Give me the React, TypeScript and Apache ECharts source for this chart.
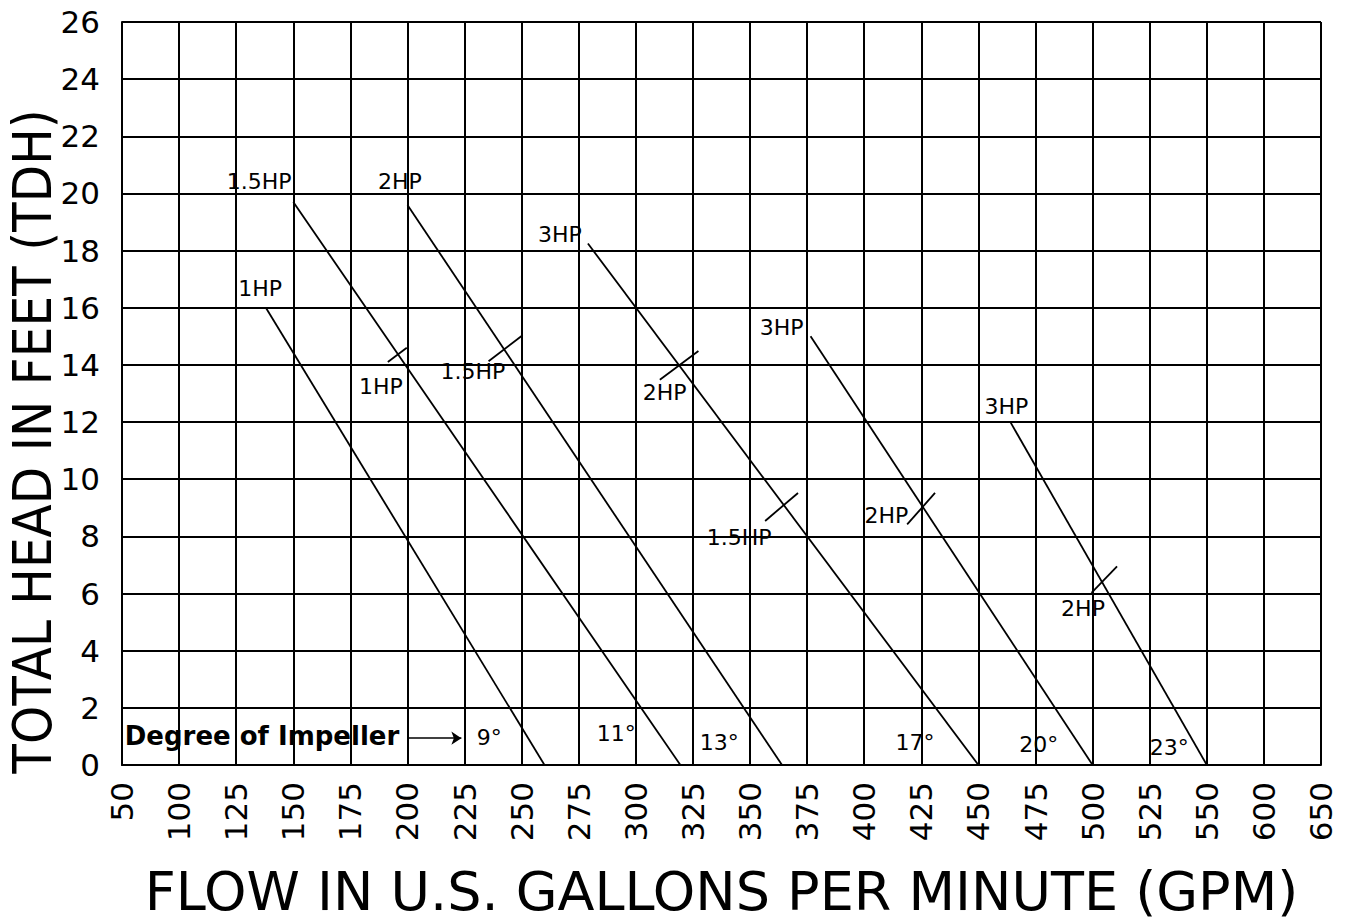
import React, { useEffect, useRef } from "react";
import * as echarts from "echarts";

// X axis tick labels (equally spaced columns on the original chart)
const xTickLabels = [
  "50", "100", "125", "150", "175", "200", "225", "250", "275", "300", "325",
  "350", "375", "400", "425", "450", "475", "500", "525", "550", "600", "650",
];

// Impeller curves: [GPM, feet TDH]
const curve9 = [[138, 16], [260, 0]];
const curve11 = [[150, 19.7], [319.5, 0]];
const curve13 = [[200, 19.6], [364, 0]];
const curve17 = [[279, 18.25], [450, 0]];
const curve20 = [[376.5, 15], [500, 0]];
const curve23 = [[464, 12], [550, 0]];
const curveNames = ["9°", "11°", "13°", "17°", "20°", "23°"];
const curves = [curve9, curve11, curve13, curve17, curve20, curve23];

// Horsepower change marks (short crossing strokes)
const hpMarks = [
  [[191.4, 14.1], [199.7, 14.6]],
  [[235.5, 14.13], [250.4, 15.04]],
  [[310.5, 13.48], [327.4, 14.49]],
  [[356.6, 8.54], [371, 9.52]],
  [[418.8, 8.42], [431, 9.52]],
  [[499.5, 6.02], [510.7, 6.95]],
];

// Horsepower labels
const hpLabelTexts = ["1.5HP", "2HP", "1HP", "3HP", "3HP", "3HP", "1HP", "1.5HP", "2HP", "1.5HP", "2HP", "2HP"];
const hpLabelPoints = [
  [135, 20.42], [196.7, 20.42], [135.5, 16.66], [266.7, 18.57], [363.8, 15.3], [462.2, 12.55],
  [188.4, 13.25], [228.6, 13.77], [312.6, 13.04], [345.2, 7.95], [409.7, 8.73], [495.8, 5.48],
];

// Degree of impeller labels
const degreeTexts = ["9°", "11°", "13°", "17°", "20°", "23°"];
const degreePoints = [[235.8, 0.95], [291.4, 1.1], [336.5, 0.79], [422.2, 0.77], [476.4, 0.72], [533.6, 0.6]];
const legendText = "Degree of Impeller";
const legendPoint = [76, 1.0];
const arrowFrom = [200, 0.94];
const arrowTo = [223.6, 0.94];

export default function App() {
  const ref = useRef<HTMLDivElement>(null);

  useEffect(() => {
    if (!ref.current) return;
    const chart = echarts.init(ref.current, null, { renderer: "svg" });
    const black = "#000";

    const curveSeries = curves.map((pts, i) => ({
      type: "line",
      name: curveNames[i],
      data: pts,
      symbol: "none",
      silent: true,
      lineStyle: { color: black, width: 1.8 },
      z: 3,
    }));

    const markSeries = hpMarks.map((pts, i) => ({
      type: "line",
      name: "mark" + i,
      data: pts,
      symbol: "none",
      silent: true,
      lineStyle: { color: black, width: 1.8 },
      z: 3,
    }));

    const labelStyle = {
      show: true,
      position: "inside",
      formatter: "{b}",
      color: black,
      opacity: 1,
      textBorderWidth: 0,
      fontFamily: "DejaVu Sans",
      fontSize: 22,
    };

    const hpLabelSeries = {
      type: "scatter",
      name: "hp",
      symbolSize: 1,
      silent: true,
      itemStyle: { color: "rgba(0,0,0,0)", opacity: 1 },
      data: hpLabelTexts.map((t, i) => ({ name: t, value: hpLabelPoints[i] })),
      label: labelStyle,
      z: 5,
    };

    const degreeSeries = {
      type: "scatter",
      name: "deg",
      symbolSize: 1,
      silent: true,
      itemStyle: { color: "rgba(0,0,0,0)", opacity: 1 },
      data: [
        ...degreeTexts.map((t, i) => ({ name: t, value: degreePoints[i] })),
        {
          name: legendText,
          value: legendPoint,
          label: { position: "right", distance: 0, fontWeight: "bold", fontSize: 26 },
        },
      ],
      label: labelStyle,
      markLine: {
        silent: true,
        symbol: ["none", "arrow"],
        symbolSize: 10,
        label: { show: false },
        lineStyle: { color: black, width: 1.5, type: "solid", opacity: 1 },
        data: [[{ coord: arrowFrom }, { coord: arrowTo }]],
      },
      z: 5,
    };

    chart.setOption({
      animation: false,
      backgroundColor: "#fff",
      grid: { left: 122, right: 24, top: 22, bottom: 159, outerBoundsMode: "none", containLabel: false },
      xAxis: {
        type: "value",
        min: 75,
        max: 600,
        interval: 25,
        name: "FLOW IN U.S. GALLONS PER MINUTE (GPM)",
        nameLocation: "middle",
        nameGap: 99,
        nameMoveOverlap: false,
        nameTextStyle: { fontFamily: "DejaVu Sans", fontSize: 54, color: black },
        axisLine: { show: true, lineStyle: { color: black, width: 2 } },
        axisTick: { show: false },
        splitLine: { show: true, lineStyle: { color: black, width: 2 } },
        axisLabel: {
          rotate: 90,
          margin: 17,
          color: black,
          fontFamily: "DejaVu Sans",
          fontSize: 31,
          formatter: (v: number) => xTickLabels[Math.round((v - 75) / 25)] ?? "",
        },
      },
      yAxis: {
        type: "value",
        min: 0,
        max: 26,
        interval: 2,
        name: "TOTAL HEAD IN FEET (TDH)",
        nameLocation: "middle",
        nameGap: 63,
        nameMoveOverlap: false,
        nameTextStyle: {
          fontFamily: "DejaVu Sans Condensed, DejaVu Sans",
          fontSize: 54,
          color: black,
          padding: [0, 96, 0, 0],
        },
        axisLine: { show: true, lineStyle: { color: black, width: 2 } },
        axisTick: { show: false },
        splitLine: { show: true, lineStyle: { color: black, width: 2 } },
        axisLabel: {
          margin: 22,
          color: black,
          fontFamily: "DejaVu Sans",
          fontSize: 31,
        },
      },
      series: [...curveSeries, ...markSeries, hpLabelSeries, degreeSeries],
    });

    return () => chart.dispose();
  }, []);

  return (
    <div
      ref={ref}
      style={{ position: "absolute", left: 0, top: 0, width: 1345, height: 924, background: "#fff" }}
    />
  );
}
